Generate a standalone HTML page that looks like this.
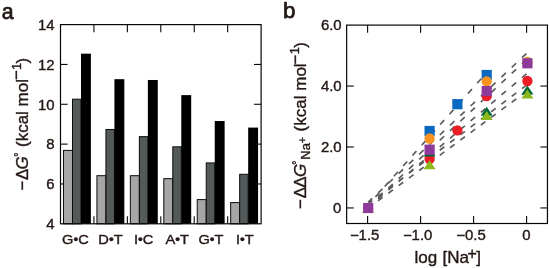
<!DOCTYPE html>
<html lang="en">
<head>
<meta charset="utf-8">
<title>Figure</title>
<style>
html,body{margin:0;padding:0;background:#ffffff;}
body{width:550px;height:268px;overflow:hidden;}
svg{display:block;}
text{font-family:"Liberation Sans", sans-serif;}
</style>
</head>
<body>
<svg width="550" height="268" viewBox="0 0 550 268">
<rect x="0" y="0" width="550" height="268" fill="#ffffff"/>
<g id="panelA">
<g stroke="#0a0504" stroke-width="1.1">
<line x1="60.5" y1="183.96" x2="67.6" y2="183.96"/>
<line x1="261.1" y1="183.96" x2="254.00000000000003" y2="183.96"/>
<line x1="60.5" y1="144.12" x2="67.6" y2="144.12"/>
<line x1="261.1" y1="144.12" x2="254.00000000000003" y2="144.12"/>
<line x1="60.5" y1="104.28" x2="67.6" y2="104.28"/>
<line x1="261.1" y1="104.28" x2="254.00000000000003" y2="104.28"/>
<line x1="60.5" y1="64.44" x2="67.6" y2="64.44"/>
<line x1="261.1" y1="64.44" x2="254.00000000000003" y2="64.44"/>
<line x1="93.93" y1="24.6" x2="93.93" y2="32.2"/>
<line x1="93.93" y1="223.8" x2="93.93" y2="216.20000000000002"/>
<line x1="127.37" y1="24.6" x2="127.37" y2="32.2"/>
<line x1="127.37" y1="223.8" x2="127.37" y2="216.20000000000002"/>
<line x1="160.80" y1="24.6" x2="160.80" y2="32.2"/>
<line x1="160.80" y1="223.8" x2="160.80" y2="216.20000000000002"/>
<line x1="194.23" y1="24.6" x2="194.23" y2="32.2"/>
<line x1="194.23" y1="223.8" x2="194.23" y2="216.20000000000002"/>
<line x1="227.67" y1="24.6" x2="227.67" y2="32.2"/>
<line x1="227.67" y1="223.8" x2="227.67" y2="216.20000000000002"/>
</g>
<g stroke="#0c0c0c" stroke-width="1">
<rect x="63.50" y="150.40" width="9.00" height="73.40" fill="#a6a6a6"/>
<rect x="72.50" y="99.20" width="8.50" height="124.60" fill="#54595a"/>
<rect x="81.00" y="53.68" width="9.90" height="170.12" fill="#000000" stroke="none"/>
<rect x="96.93" y="175.69" width="9.00" height="48.11" fill="#a6a6a6"/>
<rect x="105.93" y="129.48" width="8.50" height="94.32" fill="#54595a"/>
<rect x="114.43" y="79.18" width="9.90" height="144.62" fill="#000000" stroke="none"/>
<rect x="130.37" y="175.69" width="9.00" height="48.11" fill="#a6a6a6"/>
<rect x="139.37" y="136.65" width="8.50" height="87.15" fill="#54595a"/>
<rect x="147.87" y="79.98" width="9.90" height="143.82" fill="#000000" stroke="none"/>
<rect x="163.80" y="178.68" width="9.00" height="45.12" fill="#a6a6a6"/>
<rect x="172.80" y="146.81" width="8.50" height="76.99" fill="#54595a"/>
<rect x="181.30" y="95.12" width="9.90" height="128.68" fill="#000000" stroke="none"/>
<rect x="197.23" y="199.60" width="9.00" height="24.20" fill="#a6a6a6"/>
<rect x="206.23" y="162.94" width="8.50" height="60.86" fill="#54595a"/>
<rect x="214.73" y="121.01" width="9.90" height="102.79" fill="#000000" stroke="none"/>
<rect x="230.67" y="202.59" width="9.00" height="21.21" fill="#a6a6a6"/>
<rect x="239.67" y="174.30" width="8.50" height="49.50" fill="#54595a"/>
<rect x="248.17" y="127.59" width="9.90" height="96.21" fill="#000000" stroke="none"/>
</g>
<rect x="60.5" y="24.6" width="200.60" height="199.20" fill="none" stroke="#0a0504" stroke-width="1.2"/>
<g fill="#231815" stroke="#231815" stroke-width="0.38" stroke-linejoin="round" font-family='"Liberation Sans", sans-serif'>
<text transform="translate(54.60,229.10) scale(1.065,1)" text-anchor="end" font-size="14.0">4</text>
<text transform="translate(54.60,189.26) scale(1.065,1)" text-anchor="end" font-size="14.0">6</text>
<text transform="translate(54.60,149.42) scale(1.065,1)" text-anchor="end" font-size="14.0">8</text>
<text transform="translate(54.60,109.58) scale(1.065,1)" text-anchor="end" font-size="14.0">10</text>
<text transform="translate(54.60,69.74) scale(1.065,1)" text-anchor="end" font-size="14.0">12</text>
<text transform="translate(54.60,29.90) scale(1.065,1)" text-anchor="end" font-size="14.0">14</text>
<text transform="translate(75.40,243.6) scale(1.085,1)" text-anchor="middle" font-size="13.5" stroke-width="0.4">G<tspan font-size="12.5" dy="0.5">•</tspan><tspan dy="-0.5">C</tspan></text>
<text transform="translate(110.50,243.6) scale(1.085,1)" text-anchor="middle" font-size="13.5" stroke-width="0.4">D<tspan font-size="12.5" dy="0.5">•</tspan><tspan dy="-0.5">T</tspan></text>
<text transform="translate(143.60,243.6) scale(1.085,1)" text-anchor="middle" font-size="13.5" stroke-width="0.4">I<tspan font-size="12.5" dy="0.5">•</tspan><tspan dy="-0.5">C</tspan></text>
<text transform="translate(177.30,243.6) scale(1.085,1)" text-anchor="middle" font-size="13.5" stroke-width="0.4">A<tspan font-size="12.5" dy="0.5">•</tspan><tspan dy="-0.5">T</tspan></text>
<text transform="translate(211.00,243.6) scale(1.085,1)" text-anchor="middle" font-size="13.5" stroke-width="0.4">G<tspan font-size="12.5" dy="0.5">•</tspan><tspan dy="-0.5">T</tspan></text>
<text transform="translate(244.80,243.6) scale(1.085,1)" text-anchor="middle" font-size="13.5" stroke-width="0.4">I<tspan font-size="12.5" dy="0.5">•</tspan><tspan dy="-0.5">T</tspan></text>
<text x="1.7" y="18.6" font-size="21.3" stroke-width="0.75">a</text>
<text transform="translate(27.8,190.6) rotate(-90)" font-size="17"><tspan x="0">−</tspan><tspan x="10.6">Δ</tspan><tspan x="21.2" font-style="italic">G</tspan><tspan x="33.8" dy="-6.0" font-size="10">°</tspan><tspan x="43.60" dy="6.0" font-size="17">(kcal mol</tspan><tspan x="110.60" dy="-5.4" font-size="17">−</tspan><tspan x="120.70" dy="-1.7" font-size="13">1</tspan><tspan x="127.20" dy="7.1" font-size="17">)</tspan></text>
</g>
</g>
<g id="panelB">
<path d="M368.20 205.00L370.20 202.77M375.45 196.90L379.45 192.43M384.70 186.56L388.70 182.10M393.95 176.23L397.95 171.76M403.20 165.89L407.20 161.43M412.45 155.56L416.45 151.09M421.70 145.22L425.70 140.76M430.95 134.89L434.95 130.42M440.20 124.55L444.20 120.09M449.45 114.22L453.45 109.75M458.70 103.88L462.70 99.42M467.95 93.55L471.95 89.08M477.20 83.21L481.20 78.75M368.20 202.20L372.20 198.44M378.08 192.92L382.48 188.79M388.36 183.26L392.76 179.13M398.64 173.60L403.04 169.47M408.92 163.95L413.32 159.81M419.20 154.29L423.60 150.16M429.48 144.63L433.88 140.50M439.76 134.98L444.16 130.84M450.04 125.32L454.44 121.19M460.32 115.66L464.72 111.53M470.60 106.01L475.00 101.87M480.88 96.35L485.28 92.22M491.16 86.69L495.56 82.56M501.44 77.04L505.84 72.90M511.72 67.38L516.12 63.24M522.00 57.72L526.40 53.59M368.20 206.90L372.20 203.18M378.08 197.71L382.48 193.62M388.36 188.15L392.76 184.06M398.64 178.59L403.04 174.50M408.92 169.03L413.32 164.94M419.20 159.47L423.60 155.38M429.48 149.91L433.88 145.82M439.76 140.35L444.16 136.26M450.04 130.79L454.44 126.70M460.32 121.24L464.72 117.14M470.60 111.68L475.00 107.58M480.88 102.12L485.28 98.02M491.16 92.56L495.56 88.46M501.44 83.00L505.84 78.91M511.72 73.44L516.12 69.35M522.00 63.88L526.40 59.79M368.20 207.20L372.30 203.75M378.08 198.88L382.58 195.09M388.36 190.22L392.86 186.43M398.64 181.56L403.14 177.77M408.92 172.91L413.42 169.12M419.20 164.25L423.70 160.46M429.48 155.59L433.98 151.80M439.76 146.93L444.26 143.14M450.04 138.28L454.54 134.49M460.32 129.62L464.82 125.83M470.60 120.96L475.10 117.17M480.88 112.30L485.38 108.51M491.16 103.65L495.66 99.86M501.44 94.99L505.94 91.20M511.72 86.33L516.22 82.54M522.00 77.67L526.50 73.88M368.20 203.80L372.40 200.66M378.08 196.40L382.68 192.96M388.36 188.71L392.96 185.26M398.64 181.01L403.24 177.56M408.92 173.31L413.52 169.87M419.20 165.61L423.80 162.17M429.48 157.92L434.08 154.47M439.76 150.22L444.36 146.78M450.04 142.52L454.64 139.08M460.32 134.83L464.92 131.38M470.60 127.13L475.20 123.69M480.88 119.43L485.48 115.99M491.16 111.74L495.76 108.29M501.44 104.04L506.04 100.59M511.72 96.34L516.32 92.90M522.00 88.64L526.60 85.20M368.20 208.10L372.40 205.00M378.08 200.81L382.68 197.42M388.36 193.23L392.96 189.84M398.64 185.65L403.24 182.26M408.92 178.07L413.52 174.68M419.20 170.49L423.80 167.10M429.48 162.91L434.08 159.52M439.76 155.33L444.36 151.94M450.04 147.75L454.64 144.36M460.32 140.17L464.92 136.78M470.60 132.59L475.20 129.20M480.88 125.01L485.48 121.62M491.16 117.43L495.76 114.04M501.44 109.85L506.04 106.46M511.72 102.27L516.32 98.88M522.00 94.69L526.60 91.30" stroke="#5a5a5a" stroke-width="1.65" fill="none"/>
<rect x="424.50" y="125.90" width="10.2" height="10.2" fill="#0a6abf"/>
<rect x="452.30" y="99.10" width="10.2" height="10.2" fill="#0a6abf"/>
<rect x="481.60" y="69.90" width="10.2" height="10.2" fill="#0a6abf"/>
<circle cx="429.60" cy="159.00" r="5.15" fill="#ec1c24"/>
<circle cx="457.40" cy="130.40" r="5.15" fill="#ec1c24"/>
<circle cx="486.70" cy="96.20" r="5.15" fill="#ec1c24"/>
<circle cx="527.40" cy="81.00" r="5.15" fill="#ec1c24"/>
<circle cx="429.60" cy="138.50" r="5.15" fill="#f7931e"/>
<circle cx="486.70" cy="81.30" r="5.15" fill="#f7931e"/>
<circle cx="527.40" cy="61.90" r="5.15" fill="#f7931e"/>
<polygon points="429.60,147.50 435.60,156.50 423.60,156.50" fill="#006837"/>
<polygon points="486.70,106.80 492.70,115.80 480.70,115.80" fill="#006837"/>
<polygon points="527.40,85.40 533.40,94.40 521.40,94.40" fill="#006837"/>
<polygon points="367.90,204.10 373.90,213.10 361.90,213.10" fill="#8cb81e"/>
<polygon points="429.60,160.25 435.60,169.25 423.60,169.25" fill="#8cb81e"/>
<polygon points="486.70,110.90 492.70,119.90 480.70,119.90" fill="#8cb81e"/>
<polygon points="527.40,89.45 533.40,98.45 521.40,98.45" fill="#8cb81e"/>
<rect x="363.10" y="202.90" width="10.2" height="10.2" fill="#8e3a9b"/>
<rect x="424.50" y="144.60" width="10.2" height="10.2" fill="#8e3a9b"/>
<rect x="481.60" y="86.00" width="10.2" height="10.2" fill="#8e3a9b"/>
<rect x="522.30" y="58.20" width="10.2" height="10.2" fill="#8e3a9b"/>
<rect x="346.65" y="25.1" width="200.80" height="198.40" fill="none" stroke="#0a0504" stroke-width="1.2"/>
<g stroke="#0a0504" stroke-width="1.1">
<line x1="346.65" y1="207.95" x2="353.75" y2="207.95"/>
<line x1="547.45" y1="207.95" x2="540.35" y2="207.95"/>
<line x1="346.65" y1="147.00" x2="353.75" y2="147.00"/>
<line x1="547.45" y1="147.00" x2="540.35" y2="147.00"/>
<line x1="346.65" y1="86.05" x2="353.75" y2="86.05"/>
<line x1="547.45" y1="86.05" x2="540.35" y2="86.05"/>
<line x1="367.60" y1="25.1" x2="367.60" y2="32.7"/>
<line x1="367.60" y1="223.5" x2="367.60" y2="215.9"/>
<line x1="420.60" y1="25.1" x2="420.60" y2="32.7"/>
<line x1="420.60" y1="223.5" x2="420.60" y2="215.9"/>
<line x1="473.60" y1="25.1" x2="473.60" y2="32.7"/>
<line x1="473.60" y1="223.5" x2="473.60" y2="215.9"/>
<line x1="526.60" y1="25.1" x2="526.60" y2="32.7"/>
<line x1="526.60" y1="223.5" x2="526.60" y2="215.9"/>
</g>
<g fill="#231815" stroke="#231815" stroke-width="0.38" stroke-linejoin="round" font-family='"Liberation Sans", sans-serif'>
<text transform="translate(341.30,213.15) scale(1.065,1)" text-anchor="end" font-size="14.0">0</text>
<text transform="translate(341.60,152.20) scale(1.065,1)" text-anchor="end" font-size="14.0">2.0</text>
<text transform="translate(341.60,91.25) scale(1.065,1)" text-anchor="end" font-size="14.0">4.0</text>
<text transform="translate(341.60,30.30) scale(1.065,1)" text-anchor="end" font-size="14.0">6.0</text>
<text transform="translate(364.60,240.30) scale(1.065,1)" text-anchor="middle" font-size="14.0">−1.5</text>
<text transform="translate(417.60,240.30) scale(1.065,1)" text-anchor="middle" font-size="14.0">−1.0</text>
<text transform="translate(471.00,240.30) scale(1.065,1)" text-anchor="middle" font-size="14.0">−0.5</text>
<text transform="translate(526.30,240.30) scale(1.065,1)" text-anchor="middle" font-size="14.0">0</text>
<text x="282.9" y="18.3" font-size="22.3" stroke-width="0.75">b</text>
<text y="263.4" font-size="17"><tspan x="414.6">log</tspan> <tspan x="442.5">[Na</tspan><tspan x="467.5" dy="-4.9" font-size="16">+</tspan><tspan x="476.3" dy="4.9">]</tspan></text>
<text transform="translate(306.1,208.9) rotate(-90)" font-size="17"><tspan x="0">−</tspan><tspan x="10.6">Δ</tspan><tspan x="21.2">Δ</tspan><tspan x="32.0" font-style="italic">G</tspan><tspan x="44.2" dy="-6.0" font-size="10">°</tspan><tspan x="49.2" dy="9.8" font-size="13">Na</tspan><tspan dy="-3.8" font-size="11" x="65.6">+</tspan><tspan x="77.50" dy="0" font-size="17">(kcal mol</tspan><tspan x="144.50" dy="-5.4" font-size="17">−</tspan><tspan x="154.60" dy="-1.7" font-size="13">1</tspan><tspan x="161.10" dy="7.1" font-size="17">)</tspan></text>
</g>
</g>
</svg>
</body>
</html>
